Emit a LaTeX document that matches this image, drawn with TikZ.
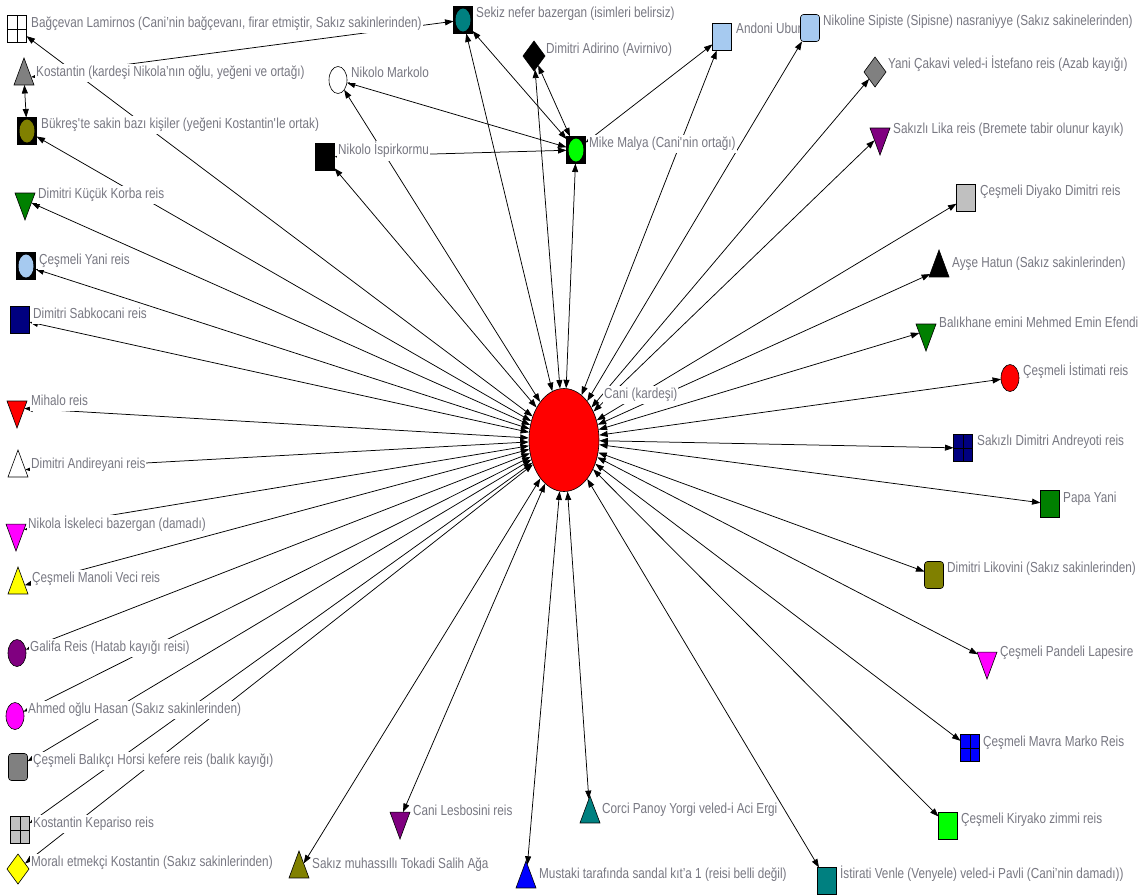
\documentclass[tikz,border=0pt]{standalone}
\usepackage{fontspec}
\setmainfont{Liberation Sans}[FakeStretch=0.81]
\usetikzlibrary{arrows.meta,shapes.geometric}
\definecolor{ndgray}{RGB}{128,128,128}
\definecolor{ndolive}{RGB}{128,128,0}
\definecolor{ndgreen}{RGB}{0,128,0}
\definecolor{ndnavy}{RGB}{0,0,128}
\definecolor{ndpurple}{RGB}{128,0,128}
\definecolor{ndteal}{RGB}{0,128,128}
\definecolor{ndsilver}{RGB}{192,192,192}
\definecolor{ndlime}{RGB}{0,255,0}
\definecolor{ndltblue}{RGB}{166,202,240}
\definecolor{ndmagenta}{RGB}{255,0,255}
\definecolor{ndblue}{RGB}{0,0,255}
\definecolor{ndred}{RGB}{255,0,0}
\definecolor{ndyellow}{RGB}{255,255,0}
\definecolor{labgray}{RGB}{120,120,130}
\pgfdeclarelayer{bg}
\pgfdeclarelayer{edges}
\pgfdeclarelayer{labels}
\pgfsetlayers{bg,edges,labels,main}
\tikzset{
  shp/.style={draw=black, line width=0.6pt, inner sep=0pt, outer sep=0pt},
  sq/.style={shp, rectangle, fill=#1, minimum width=19, minimum height=27},
  rsq/.style={sq=#1, rounded corners=3pt},
  gridsq/.style={sq=#1, path picture={\draw[line width=0.6pt] (path picture bounding box.north) -- (path picture bounding box.south) (path picture bounding box.west) -- (path picture bounding box.east);}},
  cis/.style={sq=black, path picture={\fill[#1] (path picture bounding box.center) ellipse [x radius=7.5, y radius=11.5];}},
  circ/.style={shp, ellipse, fill=#1, minimum width=18, minimum height=27},
  dia/.style={shp, diamond, fill=#1, minimum width=22, minimum height=30},
  triup/.style={shp, isosceles triangle, isosceles triangle stretches, shape border rotate=90, fill=#1, minimum width=20, minimum height=27},
  tridn/.style={shp, isosceles triangle, isosceles triangle stretches, shape border rotate=270, fill=#1, minimum width=20, minimum height=27},
  edge/.style={<->, >={Triangle[length=8.5,width=6]}, line width=0.75pt, black},
  lab/.style={anchor=west, fill=white, inner sep=1pt, text=labgray, font=\fontsize{14.5}{16}\selectfont, execute at begin node=\strut},
}
\begin{document}
\begin{tikzpicture}[x=1pt,y=-1pt]
\useasboundingbox (0,0) rectangle (1145,895);
\begin{pgfonlayer}{bg}
\fill[white] (0,0) rectangle (1145,895);
\end{pgfonlayer}
% nodes
\node[draw, line width=0.6pt, ellipse, fill=ndred, minimum width=70, minimum height=103, inner sep=0] (cani) at (564,440) {};
\node[gridsq=white] (bag) at (17,29) {};
\node[triup=ndgray] (kos) at (24,78) {};
\node[cis=ndolive] (buk) at (27,131) {};
\node[tridn=ndgreen] (kor) at (25,200) {};
\node[cis=ndltblue] (cya) at (26,266) {};
\node[sq=ndnavy] (sab) at (20,320) {};
\node[tridn=ndred] (mih) at (17,408) {};
\node[triup=white] (adr) at (18,470) {};
\node[tridn=ndmagenta] (isk) at (16,531) {};
\node[triup=ndyellow] (man) at (18,587) {};
\node[circ=ndpurple] (gal) at (17,653) {};
\node[circ=ndmagenta] (ahm) at (15,716) {};
\node[rsq=ndgray] (hor) at (18,767) {};
\node[gridsq=ndsilver] (kep) at (20,830) {};
\node[dia=ndyellow] (mor) at (18,869) {};
\node[triup=ndolive] (muh) at (299,871) {};
\node[tridn=ndpurple] (les) at (400,819) {};
\node[triup=ndblue] (mus) at (526,881) {};
\node[triup=ndteal] (cor) at (590,816) {};
\node[sq=ndteal] (ist) at (827,881) {};
\node[sq=ndlime] (kir) at (948,826) {};
\node[gridsq=ndblue] (mav) at (970,748) {};
\node[tridn=ndmagenta] (pan) at (987,659) {};
\node[rsq=ndolive] (lik) at (934,575) {};
\node[sq=ndgreen] (pap) at (1050,504) {};
\node[gridsq=ndnavy] (anr) at (963,448) {};
\node[circ=ndred] (stm) at (1010,378) {};
\node[tridn=ndgreen] (bal) at (926,331) {};
\node[triup=black] (ays) at (939,270) {};
\node[sq=ndsilver] (diy) at (966,198) {};
\node[tridn=ndpurple] (lka) at (880,135) {};
\node[dia=ndgray] (yan) at (875,72) {};
\node[rsq=ndltblue] (nik) at (810,28) {};
\node[sq=ndltblue] (ando) at (722,37) {};
\node[cis=ndlime] (mike) at (576,150) {};
\node[dia=black] (adi) at (534,56) {};
\node[cis=ndteal] (sek) at (463,20) {};
\node[circ=white] (mar) at (338,80) {};
\node[sq=black] (isp) at (325,157) {};
% edges
\begin{pgfonlayer}{edges}
\foreach \n in {bag,buk,kor,cya,sab,mih,adr,isk,man,gal,ahm,hor,kep,mor,muh,les,mus,cor,ist,kir,mav,pan,lik,pap,anr,stm,bal,ays,diy,lka,yan,nik,ando,mike,adi,sek,mar,isp}
  \draw[edge] (cani) -- (\n);
\draw[edge] (kos) -- (buk);
\draw[edge] (kos) -- (sek);
\draw[edge] (mike) -- (sek);
\draw[edge] (mike) -- (adi);
\draw[edge] (mike) -- (mar);
\draw[edge] (mike) -- (isp);
\draw[edge] (mike) -- (ando);
\end{pgfonlayer}
% labels
\begin{pgfonlayer}{labels}
\node[lab] (lcani) at (603,395) {Cani (kardeşi)};
\node[lab] (lbag) at (30,24) {Bağçevan Lamirnos (Cani’nin bağçevanı, firar etmiştir, Sakız sakinlerinden)};
\node[lab] (lkos) at (35,73) {Kostantin (kardeşi Nikola’nın oğlu, yeğeni ve ortağı)};
\node[lab] (lbuk) at (40,125) {Bükreş\textquotesingle te sakin bazı kişiler (yeğeni Kostantin\textquotesingle le ortak)};
\node[lab] (lkor) at (37,195) {Dimitri Küçük Korba reis};
\node[lab] (lcya) at (38,261) {Çeşmeli Yani reis};
\node[lab] (lsab) at (32,315) {Dimitri Sabkocani reis};
\node[lab] (lmih) at (30,402) {Mihalo reis};
\node[lab] (ladr) at (30,465) {Dimitri Andireyani reis};
\node[lab] (lisk) at (27,525) {Nikola İskeleci bazergan (damadı)};
\node[lab] (lman) at (31,579) {Çeşmeli Manoli Veci reis};
\node[lab] (lgal) at (29,648) {Galifa Reis (Hatab kayığı reisi)};
\node[lab] (lahm) at (27,710) {Ahmed oğlu Hasan (Sakız sakinlerinden)};
\node[lab] (lhor) at (32,761) {Çeşmeli Balıkçı Horsi kefere reis (balık kayığı)};
\node[lab] (lkep) at (32,824) {Kostantin Kepariso reis};
\node[lab] (lmor) at (30,863) {Moralı etmekçi Kostantin (Sakız sakinlerinden)};
\node[lab] (lmuh) at (311,865) {Sakız muhassıllı Tokadi Salih Ağa};
\node[lab] (lles) at (412,812) {Cani Lesbosini reis};
\node[lab] (lmus) at (538,875) {Mustaki tarafında sandal kıt’a 1 (reisi belli değil)};
\node[lab] (lcor) at (601,810) {Corci Panoy Yorgi veled-i Aci Ergi};
\node[lab] (list) at (839,875) {İstirati Venle (Venyele) veled-i Pavli (Cani’nin damadı))};
\node[lab] (lkir) at (960,820) {Çeşmeli Kiryako zimmi reis};
\node[lab] (lmav) at (982,743) {Çeşmeli Mavra Marko Reis};
\node[lab] (lpan) at (999,653) {Çeşmeli Pandeli Lapesire};
\node[lab] (llik) at (946,569) {Dimitri Likovini (Sakız sakinlerinden)};
\node[lab] (lpap) at (1062,499) {Papa Yani};
\node[lab] (lanr) at (976,442) {Sakızlı Dimitri Andreyoti reis};
\node[lab] (lstm) at (1022,372) {Çeşmeli İstimati reis};
\node[lab] (lbal) at (938,324) {Balıkhane emini Mehmed Emin Efendi};
\node[lab] (lays) at (951,264) {Ayşe Hatun (Sakız sakinlerinden)};
\node[lab] (ldiy) at (979,192) {Çeşmeli Diyako Dimitri reis};
\node[lab] (llka) at (892,130) {Sakızlı Lika reis (Bremete tabir olunur kayık)};
\node[lab] (lyan) at (887,65) {Yani Çakavi veled-i İstefano reis (Azab kayığı)};
\node[lab] (lnik) at (822,22) {Nikoline Sipiste (Sipisne) nasraniyye (Sakız sakinelerinden)};
\node[lab] (lando) at (735,30) {Andoni Uburi};
\node[lab] (lmike) at (588,144) {Mike Malya (Cani\textquotesingle nin ortağı)};
\node[lab] (ladi) at (545,50) {Dimitri Adirino (Avirnivo)};
\node[lab] (lsek) at (475,14) {Sekiz nefer bazergan (isimleri belirsiz)};
\node[lab] (lmar) at (350,74) {Nikolo Markolo};
\node[lab] (lisp) at (337,151) {Nikolo İspirkormu};
\end{pgfonlayer}
\end{tikzpicture}
\end{document}
